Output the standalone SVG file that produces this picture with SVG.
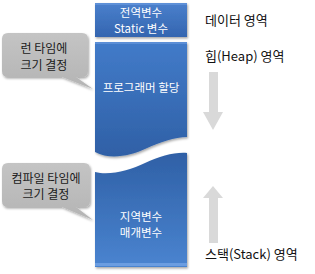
<svg xmlns="http://www.w3.org/2000/svg" width="315" height="274" viewBox="0 0 315 274">
<defs>
<linearGradient id="gTop" x1="0" y1="0" x2="0" y2="1"><stop offset="0" stop-color="#4a80cc"/><stop offset="1" stop-color="#3465b0"/></linearGradient>
<linearGradient id="gHeap" x1="0" y1="0" x2="0" y2="1"><stop offset="0" stop-color="#427bc9"/><stop offset="1" stop-color="#2f60a6"/></linearGradient>
<linearGradient id="gStack" x1="0" y1="0" x2="0" y2="1"><stop offset="0" stop-color="#2f60a6"/><stop offset="1" stop-color="#4a84d0"/></linearGradient>
<linearGradient id="gCall" x1="0" y1="0" x2="0" y2="1"><stop offset="0" stop-color="#c4c4c4"/><stop offset="1" stop-color="#b4b4b4"/></linearGradient>
<filter id="sh" x="-10%" y="-10%" width="130%" height="130%"><feDropShadow dx="1" dy="1.5" stdDeviation="1.2" flood-color="#000" flood-opacity="0.35"/></filter>
<style>
.box{filter:url(#sh);}
.wt{font-family:"Noto Sans CJK KR","Noto Sans",sans-serif;font-size:11.5px;fill:#fff;text-anchor:middle;}
.ct{font-family:"Noto Sans CJK KR","Noto Sans",sans-serif;font-size:12px;fill:#1a1a1a;text-anchor:middle;}
.lt{font-family:"Noto Sans CJK KR","Noto Sans",sans-serif;font-size:13px;fill:#111;}
.call{fill:url(#gCall);filter:url(#sh);}
.arr{fill:#d9d9d9;}
</style>
</defs>
<g id="data">
<rect class="box" x="95" y="3" width="92" height="34" fill="url(#gTop)"/>
<rect x="95" y="3" width="92" height="2" fill="#6d9be0" opacity="0.6"/>
<text class="wt" x="141" y="16.5">전역변수</text>
<text class="wt" x="141" y="33">Static 변수</text>
</g>
<g id="heap">
<path class="box" d="M95,42 H187 V137 C175,137 160,142 145,149 C130,156 110,160 95,152 Z" fill="url(#gHeap)"/>
<rect x="95" y="42" width="92" height="2" fill="#6d9be0" opacity="0.6"/>
<text class="wt" x="141" y="92">프로그래머 할당</text>
</g>
<g id="stack">
<path class="box" d="M95,172 C110,176 130,170 145,163 C160,156 175,152 187,153 V267 H95 Z" fill="url(#gStack)"/>
<rect x="95" y="263" width="92" height="3" fill="#7aa8e8" opacity="0.7"/>
<text class="wt" x="141" y="220.5">지역변수</text>
<text class="wt" x="141" y="237">매개변수</text>
</g>
<g id="callout-runtime">
<path class="call" d="M8,33 H82 Q88,33 88,39 V71 Q88,77 82,77 H76 L93,89 L62,77 H8 Q2,77 2,71 V39 Q2,33 8,33 Z"/>
<text class="ct" x="44" y="53">런 타임에</text>
<text class="ct" x="44" y="69.5">크기 결정</text>
</g>
<g id="callout-compile">
<path class="call" d="M8,163 H84 Q90,163 90,169 V201 Q90,207 84,207 H76 L93,220 L62,207 H8 Q2,207 2,201 V169 Q2,163 8,163 Z"/>
<text class="ct" x="46" y="182.5">컴파일 타임에</text>
<text class="ct" x="46" y="199">크기 결정</text>
</g>
<g id="labels">
<text class="lt" x="205" y="25">데이터 영역</text>
<text class="lt" x="205" y="61">힙(Heap) 영역</text>
<text class="lt" x="205" y="259">스택(Stack) 영역</text>
</g>
<g id="connectors">
<path class="arr" d="M209,72 H218 V112 H223 L213,130 L203,112 H209 Z"/>
<path class="arr" d="M209,243 H218 V198 H223 L213,186 L203,198 H209 Z"/>
</g>
</svg>
